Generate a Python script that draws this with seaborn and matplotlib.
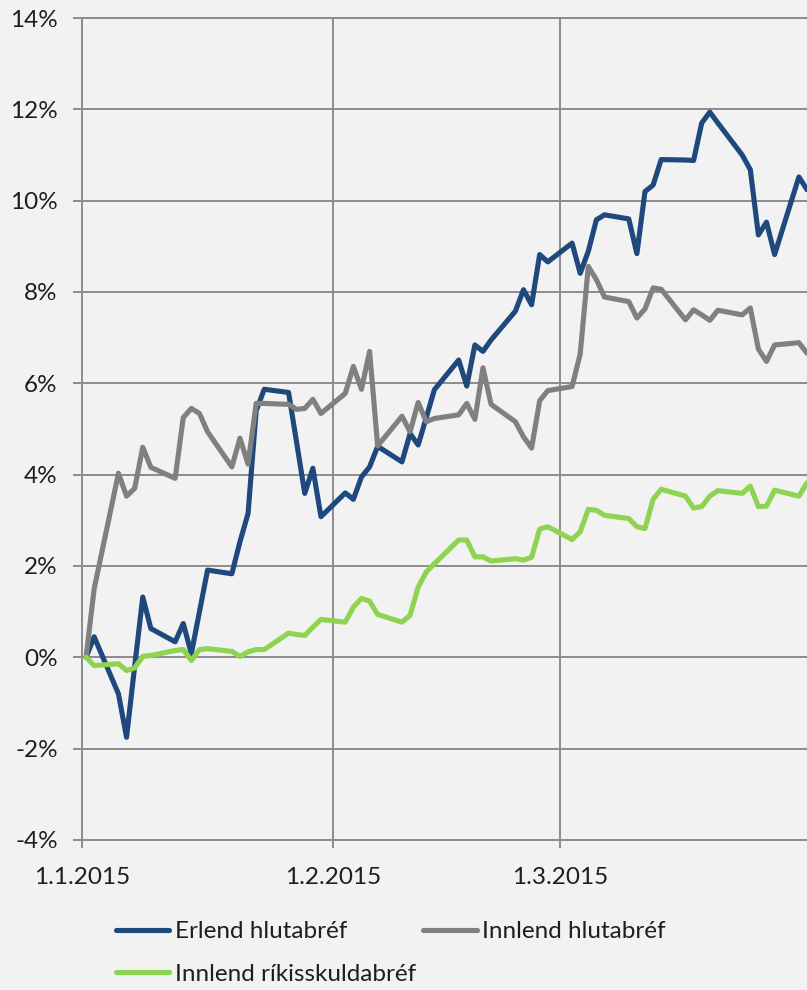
import matplotlib
matplotlib.use("Agg")
import matplotlib.pyplot as plt
import matplotlib.ticker as mticker
import pandas as pd
import seaborn as sns

# Trading days, Q1 2015 (first entry is the 0% base)
dates = [
    "2015-01-01", "2015-01-02",
    "2015-01-05", "2015-01-06", "2015-01-07", "2015-01-08", "2015-01-09",
    "2015-01-12", "2015-01-13", "2015-01-14", "2015-01-15", "2015-01-16",
    "2015-01-19", "2015-01-20", "2015-01-21", "2015-01-22", "2015-01-23",
    "2015-01-26", "2015-01-27", "2015-01-28", "2015-01-29", "2015-01-30",
    "2015-02-02", "2015-02-03", "2015-02-04", "2015-02-05", "2015-02-06",
    "2015-02-09", "2015-02-10", "2015-02-11", "2015-02-12", "2015-02-13",
    "2015-02-16", "2015-02-17", "2015-02-18", "2015-02-19", "2015-02-20",
    "2015-02-23", "2015-02-24", "2015-02-25", "2015-02-26", "2015-02-27",
    "2015-03-02", "2015-03-03", "2015-03-04", "2015-03-05", "2015-03-06",
    "2015-03-09", "2015-03-10", "2015-03-11", "2015-03-12", "2015-03-13",
    "2015-03-16", "2015-03-17", "2015-03-18", "2015-03-19", "2015-03-20",
    "2015-03-23", "2015-03-24", "2015-03-25", "2015-03-26", "2015-03-27",
    "2015-03-30", "2015-03-31",
]

# Cumulative return, %
erlend_hlutabref = [
    0.00, 0.45,
    -0.80, -1.75, -0.20, 1.32, 0.63,
    0.34, 0.74, 0.08, 1.00, 1.91,
    1.83, 2.53, 3.15, 5.40, 5.87,
    5.80, 4.70, 3.59, 4.14, 3.08,
    3.60, 3.46, 3.95, 4.17, 4.62,
    4.28, 4.90, 4.65, 5.25, 5.86,
    6.51, 5.94, 6.84, 6.70, 6.95,
    7.58, 8.05, 7.72, 8.82, 8.66,
    9.07, 8.41, 8.89, 9.58, 9.69,
    9.60, 8.84, 10.20, 10.34, 10.90,
    10.89, 10.88, 11.70, 11.94, 11.70,
    11.00, 10.68, 9.25, 9.53, 8.82,
    10.52, 10.24,
]

innlend_hlutabref = [
    0.00, 1.50,
    4.03, 3.53, 3.70, 4.60, 4.16,
    3.92, 5.25, 5.45, 5.34, 4.94,
    4.17, 4.80, 4.23, 5.56, 5.56,
    5.54, 5.43, 5.45, 5.65, 5.34,
    5.78, 6.37, 5.87, 6.70, 4.63,
    5.28, 4.94, 5.58, 5.16, 5.23,
    5.31, 5.56, 5.21, 6.34, 5.54,
    5.16, 4.83, 4.58, 5.62, 5.84,
    5.93, 6.64, 8.56, 8.27, 7.89,
    7.79, 7.43, 7.63, 8.09, 8.06,
    7.39, 7.61, 7.50, 7.38, 7.60,
    7.50, 7.65, 6.75, 6.48, 6.84,
    6.89, 6.66,
]

innlend_rikisskuldabref = [
    0.00, -0.18,
    -0.14, -0.29, -0.23, 0.02, 0.04,
    0.15, 0.17, -0.07, 0.17, 0.19,
    0.13, 0.02, 0.12, 0.17, 0.17,
    0.53, 0.50, 0.48, 0.66, 0.83,
    0.77, 1.10, 1.29, 1.23, 0.94,
    0.77, 0.92, 1.54, 1.87, 2.05,
    2.57, 2.57, 2.20, 2.20, 2.11,
    2.16, 2.13, 2.19, 2.81, 2.86,
    2.58, 2.75, 3.24, 3.22, 3.11,
    3.04, 2.86, 2.82, 3.46, 3.68,
    3.53, 3.27, 3.30, 3.53, 3.65,
    3.59, 3.75, 3.30, 3.31, 3.66,
    3.53, 3.82,
]

series_names = ["Erlend hlutabréf", "Innlend hlutabréf", "Innlend ríkisskuldabréf"]
series_colors = ["#1F497D", "#808080", "#8ED452"]

tick_dates = ["2015-01-01", "2015-02-01", "2015-03-01"]
tick_labels = ["1.1.2015", "1.2.2015", "1.3.2015"]
y_ticks = [-4, -2, 0, 2, 4, 6, 8, 10, 12, 14]

df = pd.DataFrame({
    "date": pd.to_datetime(dates * 3),
    "value": erlend_hlutabref + innlend_hlutabref + innlend_rikisskuldabref,
    "series": sum([[n] * len(dates) for n in series_names], []),
})
# each point sits in the middle of its day
df["date"] = df["date"] + pd.Timedelta(hours=12)

sns.set_theme(style="white")
bg = "#F2F2F2"
grid_c = "#8C8C8C"
text_c = "#1E1E1E"
plt.rcParams["font.family"] = ["Lato", "DejaVu Sans"]
fs = 17.5

fig = plt.figure(figsize=(8.07, 9.9), dpi=100, facecolor=bg)
W, H = 807, 990
ax = fig.add_axes([82 / W, 1 - 840 / H, 1 - 82 / W, (840 - 18) / H])
ax.set_facecolor(bg)

sns.lineplot(
    data=df, x="date", y="value", hue="series", hue_order=series_names,
    palette=dict(zip(series_names, series_colors)), linewidth=3.7,
    estimator=None, sort=False, ax=ax, legend=False, zorder=3,
)
for ln in ax.get_lines():
    ln.set_solid_joinstyle("round")
    ln.set_solid_capstyle("round")

ax.set_xlim(pd.Timestamp("2015-01-01"), pd.Timestamp("2015-03-31 12:00"))
ax.set_ylim(-4, 14)
ax.set_xticks(pd.to_datetime(tick_dates))
ax.set_xticklabels(tick_labels)
ax.set_yticks(y_ticks)
ax.yaxis.set_major_formatter(mticker.FuncFormatter(lambda v, p: f"{v:.0f}%"))
ax.set_xlabel("")
ax.set_ylabel("")

ax.grid(True, color=grid_c, linewidth=1.4, zorder=0)
ax.spines["right"].set_visible(False)
for side in ["left", "top", "bottom"]:
    ax.spines[side].set_color(grid_c)
    ax.spines[side].set_linewidth(1.4)

ax.tick_params(axis="y", which="major", direction="out", length=6.5, width=1.4,
               color=grid_c, pad=11, labelsize=fs, labelcolor=text_c, left=True)
ax.tick_params(axis="x", which="major", direction="out", length=6, width=1.4,
               color=grid_c, pad=13.5, labelsize=fs, labelcolor=text_c, bottom=True)

# legend fills column-wise, so order entries to read row by row
order = [0, 2, 1]
handles = [plt.Line2D([0], [0], color=series_colors[i], lw=3.7, solid_capstyle="round")
           for i in order]
labels = [series_names[i] for i in order]
fig.legend(
    handles, labels, loc="upper left", bbox_to_anchor=(116 / W, 1 - 921 / H),
    ncol=2, frameon=False, fontsize=fs, handlelength=2.2, handletextpad=0.22,
    columnspacing=0.3, labelspacing=0.9, borderpad=0, borderaxespad=0,
    labelcolor=text_c,
)

fig.savefig("out.png", dpi=100, facecolor=bg)
